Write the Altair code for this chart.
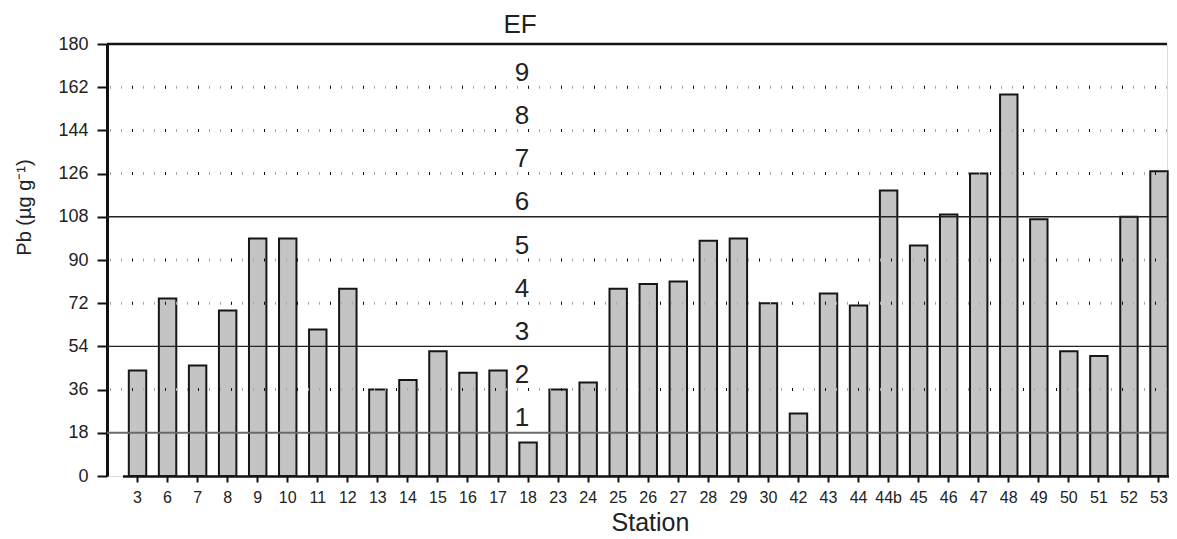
import altair as alt
import pandas as pd

# ---- data ----
stations = ["3", "6", "7", "8", "9", "10", "11", "12", "13", "14", "15", "16", "17", "18",
            "23", "24", "25", "26", "27", "28", "29", "30", "42", "43", "44", "44b", "45",
            "46", "47", "48", "49", "50", "51", "52", "53"]
pb_values = [44, 74, 46, 69, 99, 99, 61, 78, 36, 40, 52, 43, 44, 14,
             36, 39, 78, 80, 81, 98, 99, 72, 26, 76, 71, 119, 96,
             109, 126, 159, 107, 52, 50, 108, 127]
y_ticks = [0, 18, 36, 54, 72, 90, 108, 126, 144, 162, 180]
ef_labels = ["1", "2", "3", "4", "5", "6", "7", "8", "9"]
ef_label_values = [24, 42, 60, 78, 96, 114, 132, 150, 168]
ef_title = ["EF"]
ef_title_value = [188]
ef_label_station = "18"
solid_levels = [54, 108]
minor_solid_levels = [18]
top_levels = [180]
dotted_levels = [36, 72, 90, 126, 144, 162]

FONT = "Liberation Sans"

bars_df = pd.DataFrame({"station": stations, "value": pb_values})
ef_df = pd.DataFrame({"station": [ef_label_station] * len(ef_labels),
                      "value": ef_label_values, "label": ef_labels})
eft_df = pd.DataFrame({"station": [ef_label_station], "value": ef_title_value, "label": ef_title})

x_enc = alt.X(
    "station:N",
    sort=stations,
    scale=alt.Scale(domain=stations, range=[15.5, 1067], paddingInner=0.42, paddingOuter=0.21),
    axis=alt.Axis(
        title="Station", labelAngle=0, labelFontSize=16, labelColor="#222222",
        labelPadding=7, tickSize=6, tickWidth=2, tickColor="#111111",
        domainWidth=2.5, domainColor="#111111",
        titleFontSize=25, titleFontWeight="normal", titleColor="#222222",
        titleX=543, titleY=54, titleBaseline="alphabetic", titleAlign="center",
        labelFont=FONT, titleFont=FONT, grid=False,
    ),
)
y_enc = alt.Y(
    "value:Q",
    scale=alt.Scale(domain=[0, 180], nice=False, zero=True),
    axis=alt.Axis(
        title="Pb (µg g⁻¹)", values=y_ticks, format="d", labelFontSize=18,
        labelColor="#222222", labelPadding=9, tickSize=10, tickWidth=2,
        tickColor="#111111", domainWidth=3, domainColor="#111111",
        titleFontSize=20, titleFontWeight="normal", titleColor="#222222",
        titleAngle=-90, titleX=-83, titleY=163, titleAlign="center",
        titleBaseline="middle", labelFont=FONT, titleFont=FONT, grid=False,
    ),
)

bars = alt.Chart(bars_df).mark_bar(
    fill="#c4c4c4", stroke="#161616", strokeWidth=2
).encode(x=x_enc, y=y_enc)

def rule_layer(levels, **style):
    df = pd.DataFrame({"value": levels})
    return alt.Chart(df).mark_rule(**style).encode(y=y_enc)

dotted_gray = rule_layer(dotted_levels, color="#a8a8a8", strokeWidth=3, strokeDash=[1, 10])
dotted_black = rule_layer(dotted_levels, color="#111111", strokeWidth=3, strokeDash=[1, 32],
                          strokeDashOffset=-11)
solid = rule_layer(solid_levels, color="#222222", strokeWidth=1.4)
minor_solid = rule_layer(minor_solid_levels, color="#6a6a6a", strokeWidth=2)
top = rule_layer(top_levels, color="#161616", strokeWidth=2.5)

ef_text = alt.Chart(ef_df).mark_text(
    fontSize=26, font=FONT, color="#222222", baseline="middle", align="center", dx=-6
).encode(x=x_enc, y=y_enc, text="label:N")

ef_title_text = alt.Chart(eft_df).mark_text(
    fontSize=26, font=FONT, color="#222222", baseline="middle", align="center", dx=-8
).encode(x=x_enc, y=y_enc, text="label:N")

chart = alt.layer(
    bars, dotted_gray, dotted_black, solid, minor_solid, top, ef_text, ef_title_text
).properties(
    width=1060, height=432,
    autosize=alt.AutoSizeParams(type="none"),
    padding={"left": 99, "top": 36, "right": 2, "bottom": 60},
).configure_view(stroke=None).configure(font=FONT)

chart.save("out.html", embed_options={"renderer": "svg", "actions": False})
